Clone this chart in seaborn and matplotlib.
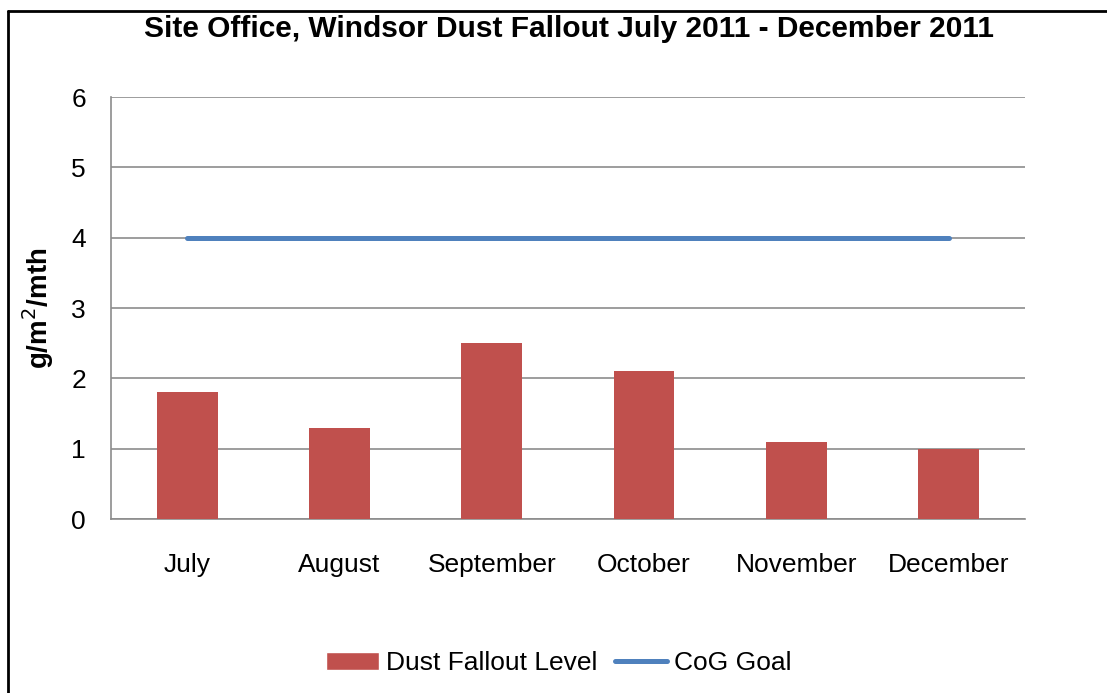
import matplotlib
matplotlib.use("Agg")
import matplotlib.pyplot as plt
from matplotlib.lines import Line2D
from matplotlib.patches import Patch
import numpy as np
import pandas as pd
import seaborn as sns

months = ["July", "August", "September", "October", "November", "December"]
dust = [1.8, 1.3, 2.5, 2.1, 1.1, 1.0]
goal = [4, 4, 4, 4, 4, 4]

bar_color = "#C0504D"
line_color = "#4F81BD"
grid_color = "#8C8C8C"

sns.set_style("white")
plt.rcParams["font.family"] = ["Liberation Sans", "DejaVu Sans"]
plt.rcParams["text.color"] = "black"
plt.rcParams["xtick.labelcolor"] = "black"
plt.rcParams["ytick.labelcolor"] = "black"
plt.rcParams["axes.labelcolor"] = "black"

df = pd.DataFrame({"month": months, "dust": dust, "goal": goal})

fig = plt.figure(figsize=(11.07, 6.93), dpi=100)
ax = fig.add_axes([0.1003, 0.251, 0.8254, 0.609])

sns.barplot(data=df, x="month", y="dust", color=bar_color, width=0.4,
            saturation=1, linewidth=0, ax=ax, zorder=3)
sns.lineplot(x=np.arange(len(months)), y=df["goal"], color=line_color,
             linewidth=3.6, ax=ax, zorder=4)

ax.set_xlim(-0.5, len(months) - 0.5)
ax.set_ylim(0, 6)
ax.set_yticks(range(0, 7))
ax.yaxis.grid(True, color=grid_color, linewidth=1.2)
ax.set_axisbelow(True)

# category boundary ticks
ax.set_xticks(np.arange(-0.5, len(months)), minor=True)
ax.tick_params(axis="x", which="major", length=0, pad=24.5, labelsize=19)
ax.tick_params(axis="x", which="minor", length=8, width=1.2,
               color=grid_color, direction="out")
ax.tick_params(axis="y", length=8, width=1.2, color=grid_color,
               direction="out", pad=10, labelsize=19)
ax.set_xlabel("")
ax.set_ylabel("g/m$^2$/mth", fontsize=20, fontweight="bold", labelpad=11)

for s in ["top", "right"]:
    ax.spines[s].set_visible(False)
for s in ["left", "bottom"]:
    ax.spines[s].set_color(grid_color)
    ax.spines[s].set_linewidth(1.2)

fig.suptitle("Site Office, Windsor Dust Fallout July 2011 - December 2011",
             fontsize=21.5, fontweight="bold", x=0.514, y=0.958, va="center")

handles = [Patch(facecolor=bar_color, label="Dust Fallout Level"),
           Line2D([0], [0], color=line_color, linewidth=3.6, label="CoG Goal")]
fig.legend(handles=handles, loc="center", bbox_to_anchor=(0.505, 0.043),
           ncol=2, frameon=False, fontsize=19, handlelength=2.0,
           handletextpad=0.27, columnspacing=0.65)

# frame lines on left and top
fig.add_artist(Line2D([0.0075, 0.0075], [0, 0.984], color="black", linewidth=2,
                      transform=fig.transFigure))
fig.add_artist(Line2D([0.0075, 1.0], [0.984, 0.984], color="black", linewidth=2,
                      transform=fig.transFigure))

fig.savefig("out.png", dpi=100)
